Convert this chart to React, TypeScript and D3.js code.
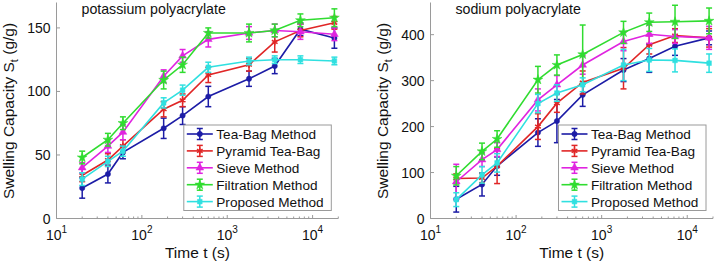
import React from 'react';
import * as d3 from 'd3';

// Time points (s)
const times = [20, 40, 60, 180, 300, 600, 1800, 3600, 7200, 18000];

// Potassium polyacrylate (g/g)
const kTeaBag = [24, 35, 52, 71, 81, 96, 110, 120, 149, 142];
const kTeaBagErr = [8, 7, 5, 8, 7, 8, 6, 6, 5, 8];
const kPyramid = [34, 46, 57, 86, 93, 113, 121, 139, 148, 154];
const kPyramidErr = [5, 5, 5, 6, 5, 6, 5, 8, 5, 5];
const kSieve = [40, 57, 68, 112, 128, 141, 146, 148, 147, 145];
const kSieveErr = [4, 5, 6, 5, 5, 6, 5, 5, 6, 5];
const kFiltration = [48, 62, 75, 109, 121, 146, 146, 148, 156, 158];
const kFiltrationErr = [5, 5, 5, 7, 6, 4, 7, 5, 5, 7];
const kProposed = [31, 45, 53, 91, 101, 119, 124, 125, 125, 124];
const kProposedErr = [5, 4, 4, 4, 4, 4, 3, 3, 3, 3];

// Sodium polyacrylate (g/g)
const nTeaBag = [42, 74, 114, 187, 212, 269, 323, 348, 375, 393];
const nTeaBagErr = [28, 25, 20, 30, 47, 25, 25, 30, 20, 15];
const nPyramid = [87, 88, 114, 200, 251, 296, 327, 378, 398, 393];
const nPyramidErr = [10, 10, 38, 28, 20, 25, 45, 20, 15, 20];
const nSieve = [80, 128, 150, 258, 291, 334, 385, 401, 396, 393];
const nSieveErr = [38, 15, 15, 24, 20, 20, 20, 20, 15, 25];
const nFiltration = [93, 146, 173, 302, 334, 357, 405, 427, 428, 430];
const nFiltrationErr = [20, 18, 18, 29, 22, 64, 24, 20, 36, 28];
const nProposed = [41, 95, 121, 250, 273, 291, 334, 345, 344, 338];
const nProposedErr = [15, 18, 20, 20, 18, 15, 34, 25, 25, 20];

const seriesNames = ['Tea-Bag Method', 'Pyramid Tea-Bag', 'Sieve Method', 'Filtration Method', 'Proposed Method'];
const seriesColors = ['#1c1ca6', '#e02626', '#e024e0', '#30dc30', '#30e0e0'];
const seriesSymbols = [d3.symbolCircle, d3.symbolAsterisk, d3.symbolTriangle, d3.symbolStar, d3.symbolSquare];
const symbolSizes = [22, 30, 26, 30, 22];

const xTicks = [10, 100, 1000, 10000];
const xTickExp = ['1', '2', '3', '4'];
const kYTicks = [0, 50, 100, 150];
const nYTicks = [0, 100, 200, 300, 400];

const FONT = 'Liberation Sans, Arial, Helvetica, sans-serif';
const AXIS = '#9a9a9a';

type PanelProps = {
  title: string;
  x0: number;
  x1: number;
  yMax: number;
  yTicks: number[];
  values: number[][];
  errors: number[][];
};

function Panel({ title, x0, x1, yMax, yTicks, values, errors }: PanelProps) {
  const yBottom = 218.5;
  const yTop = 2.5;
  const x = d3.scaleLog().domain([10, 20000]).range([x0, x1]);
  const y = d3.scaleLinear().domain([0, yMax]).range([yBottom, yTop]);
  const line = d3
    .line<number>()
    .x((_, i) => x(times[i]))
    .y((v) => y(v));

  const minor: number[] = [];
  for (let e = 1; e <= 4; e++) {
    for (let m = 2; m <= 9; m++) {
      const v = m * Math.pow(10, e);
      if (v <= 20000) minor.push(v);
    }
  }

  const legX1 = x1 - 7;
  const legX0 = legX1 - 147.5;
  const legY0 = 125;
  const legY1 = 210.5;
  const rowH = 16.9;

  return (
    <g>
      {/* axes */}
      <line x1={x0} x2={x0} y1={yTop} y2={yBottom} stroke={AXIS} strokeWidth={1} />
      <line x1={x0} x2={x1} y1={yBottom} y2={yBottom} stroke={AXIS} strokeWidth={1} />
      {yTicks.map((t) => (
        <g key={'yt' + t}>
          <line x1={x0} x2={x0 + 3.5} y1={y(t)} y2={y(t)} stroke={AXIS} />
          <text x={x0 - 6} y={y(t) + 5} textAnchor="end" fontSize={14} fill="#111" fontFamily={FONT}>
            {t}
          </text>
        </g>
      ))}
      {minor.map((t) => (
        <line key={'mn' + t} x1={x(t)} x2={x(t)} y1={yBottom} y2={yBottom - 2} stroke={AXIS} />
      ))}
      {xTicks.map((t, i) => (
        <g key={'xt' + t}>
          <line x1={x(t)} x2={x(t)} y1={yBottom} y2={yBottom - 3.5} stroke={AXIS} />
          <text x={x(t)} y={240} textAnchor="middle" fontSize={14} fill="#111" fontFamily={FONT}>
            10<tspan dy={-7} fontSize={10}>{xTickExp[i]}</tspan>
          </text>
        </g>
      ))}
      <text x={(x0 + x1) / 2} y={258} textAnchor="middle" fontSize={15.5} fill="#111" fontFamily={FONT}>
        Time t (s)
      </text>
      <text
        transform={`translate(${x0 - 43},111) rotate(-90)`}
        textAnchor="middle"
        fontSize={15.5}
        fill="#111"
        fontFamily={FONT}
      >
        Swelling Capacity S<tspan dy={4} fontSize={11}>t</tspan>
        <tspan dy={-4}> (g/g)</tspan>
      </text>
      <text x={x0 + 25} y={14} fontSize={14.2} fill="#111" fontFamily={FONT}>
        {title}
      </text>

      {/* series */}
      {values.map((vals, s) => {
        const col = seriesColors[s];
        const sym = d3.symbol().type(seriesSymbols[s]).size(symbolSizes[s])() as string;
        const stroked = s === 1;
        return (
          <g key={'s' + s}>
            <path d={line(vals) as string} fill="none" stroke={col} strokeWidth={1.6} />
            {vals.map((v, i) => {
              const cx = x(times[i]);
              const e = errors[s][i];
              const yt = y(Math.min(v + e, yMax));
              const yb = y(v - e);
              return (
                <g key={i}>
                  <line x1={cx} x2={cx} y1={yt} y2={yb} stroke={col} strokeWidth={1.5} />
                  {v + e <= yMax && <line x1={cx - 3} x2={cx + 3} y1={yt} y2={yt} stroke={col} strokeWidth={1.5} />}
                  <line x1={cx - 3} x2={cx + 3} y1={yb} y2={yb} stroke={col} strokeWidth={1.5} />
                  <path
                    d={sym}
                    transform={`translate(${cx},${y(v)})`}
                    fill={stroked ? 'none' : col}
                    stroke={col}
                    strokeWidth={stroked ? 1.5 : 0.5}
                  />
                </g>
              );
            })}
          </g>
        );
      })}

      {/* legend */}
      <rect x={legX0} y={legY0} width={legX1 - legX0} height={legY1 - legY0} fill="#fff" stroke={AXIS} strokeWidth={1} />
      {seriesNames.map((name, s) => {
        const cy = 134 + s * rowH;
        const col = seriesColors[s];
        const lx0 = legX0 + 3;
        const lx1 = legX0 + 29;
        const mx = (lx0 + lx1) / 2;
        const sym = d3.symbol().type(seriesSymbols[s]).size(symbolSizes[s])() as string;
        const stroked = s === 1;
        return (
          <g key={'lg' + s}>
            <line x1={lx0} x2={lx1} y1={cy} y2={cy} stroke={col} strokeWidth={1.6} />
            <line x1={mx} x2={mx} y1={cy - 5.5} y2={cy + 5.5} stroke={col} strokeWidth={1.5} />
            <line x1={mx - 3} x2={mx + 3} y1={cy - 5.5} y2={cy - 5.5} stroke={col} strokeWidth={1.5} />
            <line x1={mx - 3} x2={mx + 3} y1={cy + 5.5} y2={cy + 5.5} stroke={col} strokeWidth={1.5} />
            <path
              d={sym}
              transform={`translate(${mx},${cy})`}
              fill={stroked ? 'none' : col}
              stroke={col}
              strokeWidth={stroked ? 1.5 : 0.5}
            />
            <text x={legX0 + 32.5} y={cy + 5} fontSize={13.6} fill="#111" fontFamily={FONT}>
              {name}
            </text>
          </g>
        );
      })}
    </g>
  );
}

export default function App() {
  return (
    <div style={{ position: 'absolute', left: 0, top: 0, background: '#fff' }}>
      <svg width={716} height={264} viewBox="0 0 716 264" style={{ display: 'block' }}>
        <rect x={0} y={0} width={716} height={264} fill="#fff" />
        <Panel
          title="potassium polyacrylate"
          x0={56.5}
          x1={338.3}
          yMax={170}
          yTicks={kYTicks}
          values={[kTeaBag, kPyramid, kSieve, kFiltration, kProposed]}
          errors={[kTeaBagErr, kPyramidErr, kSieveErr, kFiltrationErr, kProposedErr]}
        />
        <Panel
          title="sodium polyacrylate"
          x0={430.5}
          x1={713}
          yMax={470}
          yTicks={nYTicks}
          values={[nTeaBag, nPyramid, nSieve, nFiltration, nProposed]}
          errors={[nTeaBagErr, nPyramidErr, nSieveErr, nFiltrationErr, nProposedErr]}
        />
      </svg>
    </div>
  );
}
